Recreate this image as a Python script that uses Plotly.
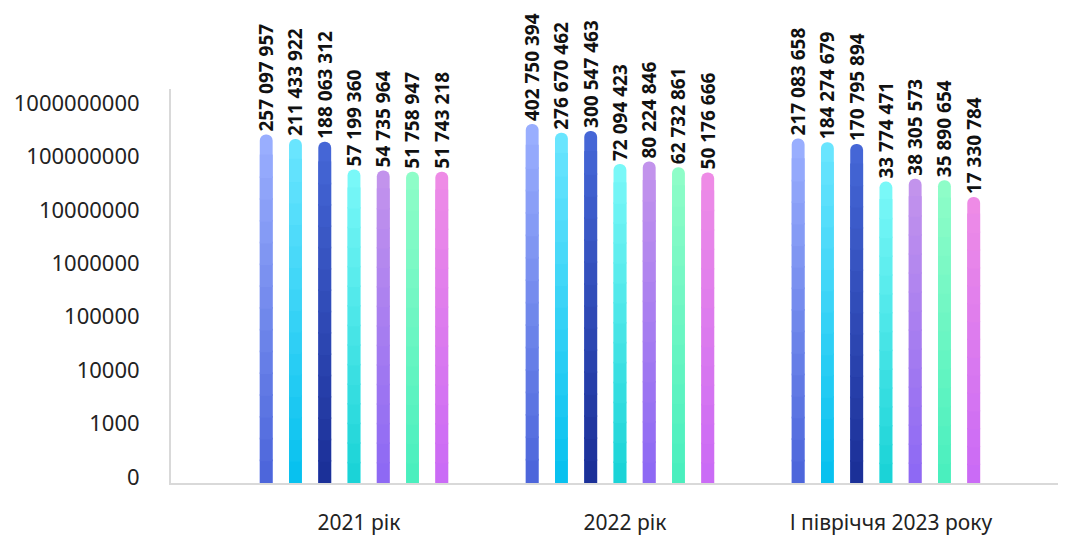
import numpy as np
import plotly.graph_objects as go

categories = ["2021 рік", "2022 рік", "І півріччя 2023 року"]

values_2021 = [257097957, 211433922, 188063312, 57199360, 54735964, 51758947, 51743218]
values_2022 = [402750394, 276670462, 300547463, 72094423, 80224846, 62732861, 50176666]
values_2023 = [217083658, 184274679, 170795894, 33774471, 38305573, 35890654, 17330784]

y_tick_values = [1e2, 1e3, 1e4, 1e5, 1e6, 1e7, 1e8, 1e9]
y_tick_labels = ["0", "1000", "10000", "100000", "1000000", "10000000", "100000000", "1000000000"]

# gradient colours per series (bottom, top)
color_bottom = ["#4a64da", "#05c0ee", "#1a2e96", "#18d2d6", "#8c68f4", "#48efbe", "#c96af6"]
color_top = ["#9cb0ff", "#6ce6ff", "#4668d8", "#7cf9f9", "#c494ec", "#90fdc8", "#ef8ce6"]

Y_LO, Y_HI = 1.888, 9.262
K = 16


def hex_to_rgb(h):
    h = h.lstrip("#")
    return np.array([int(h[i:i + 2], 16) for i in (0, 2, 4)], dtype=float)


def mix(c1, c2, t):
    a, b = hex_to_rgb(c1), hex_to_rgb(c2)
    c = a + (b - a) * t
    return "rgb(%d,%d,%d)" % tuple(np.round(c).astype(int))


def fmt(v):
    return f"{v:,}".replace(",", " ")


series = [list(s) for s in zip(values_2021, values_2022, values_2023)]

fig = go.Figure()
for i, vals in enumerate(series):
    logs = np.log10(np.array(vals, dtype=float))
    # full rounded bar (top colour) carrying the value label
    fig.add_trace(go.Bar(
        x=categories,
        y=vals,
        offsetgroup=f"g{i}",
        marker=dict(color=mix(color_bottom[i], color_top[i], (K - 0.5) / K),
                    line=dict(width=0), cornerradius="50%"),
        text=[fmt(v) for v in vals],
        textposition="outside",
        textangle=-90,
        constraintext="none",
        cliponaxis=False,
        textfont=dict(family="Noto Sans", size=19, color="#111111", weight="bold"),
        hoverinfo="skip",
        showlegend=False,
    ))
    # gradient bands over the lower part of the same bar
    for k in range(K - 1):
        lo = [10 ** (Y_LO + (lv - Y_LO) * k / K) for lv in logs]
        hi = [10 ** (Y_LO + (lv - Y_LO) * (k + 1.08) / K) for lv in logs]
        fig.add_trace(go.Bar(
            x=categories,
            y=[h - l for h, l in zip(hi, lo)],
            base=lo,
            offsetgroup=f"g{i}",
            marker=dict(color=mix(color_bottom[i], color_top[i], (k + 0.5) / K),
                        line=dict(width=0), cornerradius=0),
            hoverinfo="skip",
            showlegend=False,
        ))

fig.update_layout(
    width=1072,
    height=536,
    barmode="group",
    bargap=0.23,
    bargroupgap=0.56,
    plot_bgcolor="white",
    paper_bgcolor="white",
    margin=dict(l=171, r=14, t=89, b=53),
    font=dict(family="Noto Sans", color="#222222"),
)
fig.update_xaxes(
    type="category",
    range=[-0.688, 2.647],
    showline=True,
    linecolor="#d9d9d9",
    linewidth=2,
    showgrid=False,
    zeroline=False,
    ticks="outside",
    ticklen=20,
    tickcolor="rgba(0,0,0,0)",
    ticklabelshift=5,
    tickfont=dict(size=21, color="#222222"),
    automargin=False,
)
fig.update_yaxes(
    type="log",
    range=[Y_LO, Y_HI],
    tickvals=y_tick_values,
    ticktext=y_tick_labels,
    showline=True,
    linecolor="#d9d9d9",
    linewidth=2,
    showgrid=False,
    zeroline=False,
    ticks="outside",
    ticklen=25,
    tickcolor="rgba(0,0,0,0)",
    tickfont=dict(size=22, color="#222222"),
    automargin=False,
)

fig.write_html("out.html")
